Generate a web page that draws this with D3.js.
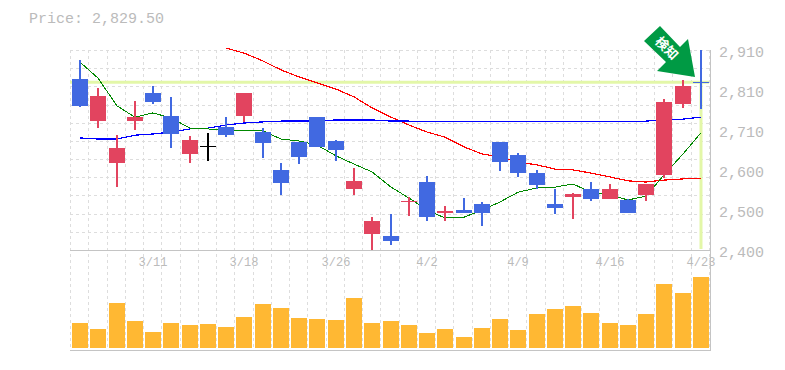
<!DOCTYPE html>
<html>
<head>
<meta charset="utf-8">
<script src="https://cdn.jsdelivr.net/npm/d3@7"></script>
<style>
    body { margin: 0; background: #fff; }
    svg { display: block; }
    text { font-family: "Liberation Mono", monospace; fill: #bbb; }
</style>
</head>
<body>
<script>
// Daily candles plus three moving averages and volume

const dates = ["3/5","3/6","3/7","3/8","3/11","3/12","3/13","3/14","3/15","3/18","3/19","3/20","3/22","3/25","3/26","3/27","3/28","3/29","4/1","4/2","4/3","4/4","4/5","4/8","4/9","4/10","4/11","4/12","4/15","4/16","4/17","4/18","4/19","4/22","4/23"]
const dateTicks = ["3/11","3/18","3/26","4/2","4/9","4/16","4/23"]
const priceTicks = [2400, 2500, 2600, 2710, 2810, 2910]
const currentPrice = 2829.5

// in price units
const opens = [2838,2730,2623,2730,2802,2743,2646,2666,2715,2743,2702,2605,2676,2740,2679,2556,2441,2436,2524,2574,2495,2502,2518,2676,2643,2597,2518,2536,2556,2531,2528,2541,2592,2774,2830]
const closes = [2769,2794,2661,2740,2779,2697,2682,2666,2694,2802,2674,2572,2638,2664,2656,2577,2474,2423,2525,2484,2500,2495,2495,2625,2597,2566,2508,2543,2531,2556,2495,2569,2779,2820,2829.5]
const highs = [2886,2815,2694,2781,2820,2792,2692,2700,2740,2802,2712,2623,2676,2740,2682,2610,2484,2492,2536,2589,2513,2533,2523,2676,2648,2605,2556,2546,2574,2569,2531,2569,2787,2835,2912]
const lows = [2766,2712,2561,2707,2774,2661,2623,2628,2689,2728,2636,2541,2620,2664,2628,2541,2400,2413,2487,2474,2474,2495,2461,2602,2587,2556,2492,2479,2525,2531,2495,2525,2584,2764,2761]

const ma5 = [2881,2840,2769,2740,2751,2738,2712,2710,2705,2707,2705,2684,2679,2669,2641,2620,2600,2561,2533,2502,2482,2484,2502,2523,2548,2559,2561,2569,2548,2541,2528,2538,2592,2646,2700]
const ma25 = [2687,2684,2684,2694,2697,2702,2710,2712,2720,2725,2728,2730,2730,2730,2733,2733,2733,2730,2730,2728,2728,2728,2728,2728,2728,2728,2728,2730,2728,2730,2728,2730,2733,2735,2740]
const ma75 = [null,null,null,null,null,null,null,null,2917,2904,2884,2861,2843,2828,2812,2792,2764,2740,2720,2702,2689,2664,2646,2638,2625,2618,2607,2605,2597,2587,2577,2574,2579,2582,2584]

const volumes = [253,193,453,273,163,253,233,243,213,313,443,403,303,293,283,503,253,273,233,153,193,113,203,293,183,343,393,423,353,253,233,343,643,553,713]

const width = 785,
    height = 370
const left = 70,
    right = 710,
    top_ = 50,
    priceBottom = 250,
    volBottom = 350

const svg = d3.select("body").append("svg")
    .attr("width", width)
    .attr("height", height)

const x = d3.scaleBand().domain(dates).range([left + 1, right])
const y = d3.scaleLinear().domain([2400, 2912]).range([priceBottom, top_])
const yVol = d3.scaleLinear().domain([0, 1000]).range([348.3, 248.3])

const barW = 16
const cx = (i) => Math.round(x(dates[i]) + x.bandwidth() / 2)

// grid
const gridX = d3.range(0, dates.length + 1).map((i) => Math.round(left + i * x.step()))
const gridY = d3.range(0, 11).map((i) => Math.round(top_ + i * (priceBottom - top_) / 11))

svg.append("g").selectAll("line")
    .data(gridX)
    .join("line")
    .attr("x1", (d) => d + .5).attr("x2", (d) => d + .5)
    .attr("y1", top_).attr("y2", volBottom)
    .attr("stroke", "#ddd")
    .attr("stroke-dasharray", "3,3")

svg.append("g").selectAll("line")
    .data(gridY)
    .join("line")
    .attr("x1", left).attr("x2", right)
    .attr("y1", (d) => d + .5).attr("y2", (d) => d + .5)
    .attr("stroke", "#ddd")
    .attr("stroke-dasharray", "3,3")

// panel borders
svg.append("line").attr("x1", left).attr("x2", right + 1).attr("y1", priceBottom + .5).attr("y2", priceBottom + .5).attr("stroke", "#c4c4c4")
svg.append("line").attr("x1", left).attr("x2", right + 1).attr("y1", volBottom + .5).attr("y2", volBottom + .5).attr("stroke", "#c4c4c4")
svg.append("line").attr("x1", right + .5).attr("x2", right + .5).attr("y1", top_).attr("y2", volBottom + 1).attr("stroke", "#c4c4c4")

// current price guide lines
svg.append("line")
    .attr("x1", left).attr("x2", right - 1)
    .attr("y1", y(currentPrice)).attr("y2", y(currentPrice))
    .attr("stroke", "#e3f7a8").attr("stroke-width", 3)
svg.append("line")
    .attr("x1", cx(34)).attr("x2", cx(34))
    .attr("y1", y(currentPrice)).attr("y2", priceBottom - 1)
    .attr("stroke", "#e3f7a8").attr("stroke-width", 3)

// volume
svg.append("g").selectAll("rect")
    .data(volumes)
    .join("rect")
    .attr("x", (d, i) => cx(i) - barW / 2)
    .attr("y", (d) => Math.round(yVol(d)))
    .attr("width", barW)
    .attr("height", (d) => 348 - Math.round(yVol(d)))
    .attr("fill", "#ffb833")

// moving averages go under the candles
const maLine = d3.line()
    .defined((d) => d !== null)
    .x((d, i) => cx(i))
    .y((d) => y(d))

svg.append("path").attr("d", maLine(ma75)).attr("fill", "none").attr("stroke", "#f00").attr("stroke-width", 1.2).attr("shape-rendering", "crispEdges")
svg.append("path").attr("d", maLine(ma25)).attr("fill", "none").attr("stroke", "#00f").attr("stroke-width", 1.2).attr("shape-rendering", "crispEdges")
svg.append("path").attr("d", maLine(ma5)).attr("fill", "none").attr("stroke", "#080").attr("stroke-width", 1).attr("shape-rendering", "crispEdges")

// candles
const upColor = "#e2445f",
    downColor = "#4169e1"
const candleColor = (i) => closes[i] > opens[i] ? upColor : closes[i] < opens[i] ? downColor : "#000"

const candles = svg.append("g").selectAll("g")
    .data(dates)
    .join("g")

candles.append("rect")
    .attr("x", (d, i) => cx(i) - 1)
    .attr("y", (d, i) => Math.round(y(highs[i])))
    .attr("width", 2)
    .attr("height", (d, i) => Math.round(y(lows[i])) - Math.round(y(highs[i])))
    .attr("fill", (d, i) => candleColor(i))

candles.append("rect")
    .attr("x", (d, i) => cx(i) - barW / 2)
    .attr("y", (d, i) => Math.round(y(Math.max(opens[i], closes[i]))))
    .attr("width", barW)
    .attr("height", (d, i) => Math.max(1, Math.round(y(Math.min(opens[i], closes[i]))) - Math.round(y(Math.max(opens[i], closes[i])))))
    .attr("fill", (d, i) => candleColor(i))

// price labels sit on even steps, not on the price scale
const yPositions = d3.scaleOrdinal().domain(priceTicks).range(d3.range(0, 6).map((i) => 253 - i * 40))

svg.append("g").selectAll("text")
    .data(priceTicks)
    .join("text")
    .attr("x", 719)
    .attr("y", (d) => yPositions(d) + 4)
    .style("font-size", "15px")
    .text((d) => d3.format(",")(d))

svg.append("g").selectAll("text")
    .data(dateTicks)
    .join("text")
    .attr("x", (d) => cx(dates.indexOf(d)))
    .attr("y", 266)
    .attr("text-anchor", "middle")
    .style("font-size", "12px")
    .text((d) => d)

svg.append("text")
    .attr("x", 29)
    .attr("y", 23)
    .style("font-size", "15px")
    .text(`Price: ${d3.format(",.2f")(currentPrice)}`)

// signal arrow
const arrow = svg.append("g")
arrow.append("polygon")
    .attr("points", "660,26 644,41 666,62 657,71 695,77 688,39 680,47")
    .attr("fill", "#009a44")
arrow.append("text")
    .attr("transform", "translate(666,49) rotate(45)")
    .attr("text-anchor", "middle")
    .attr("dominant-baseline", "middle")
    .style("font-family", "'Noto Sans CJK JP'")
    .style("font-size", "13px")
    .style("font-weight", "bold")
    .style("fill", "#fff")
    .text("検知")
</script>
</body>
</html>
